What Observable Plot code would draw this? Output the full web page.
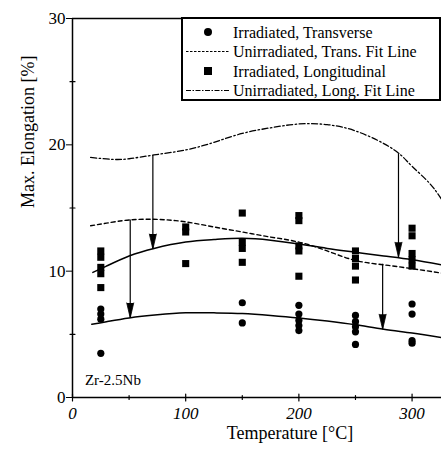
<!DOCTYPE html>
<html>
<head>
<meta charset="utf-8">
<script src="https://cdn.jsdelivr.net/npm/d3@7"></script>
<script src="https://cdn.jsdelivr.net/npm/@observablehq/plot@0.6"></script>
<style>
  html, body { margin: 0; padding: 0; background: #fff; }
  #chart { width: 441px; height: 454px; }
</style>
</head>
<body>
<div id="chart"></div>
<script>
// ---- data ----
const transverseTemp  = [25, 25, 25, 25, 150, 150, 200, 200, 200, 200, 200, 250, 250, 250, 250, 250, 300, 300, 300, 300];
const transverseElong = [7.0, 6.6, 6.2, 3.5, 7.5, 5.9, 7.3, 6.6, 6.1, 5.7, 5.3, 6.5, 6.0, 5.6, 5.2, 4.2, 7.4, 6.6, 4.5, 4.3];

const longTemp  = [25, 25, 25, 25, 25, 100, 100, 100, 150, 150, 150, 150, 200, 200, 200, 200, 200, 250, 250, 250, 250, 300, 300, 300, 300, 300];
const longElong = [11.6, 11.1, 10.3, 9.8, 8.7, 13.5, 13.1, 10.6, 14.6, 12.3, 11.8, 10.7, 14.4, 14.0, 12.0, 11.6, 9.6, 11.6, 11.0, 10.4, 9.3, 13.4, 12.8, 11.4, 10.9, 10.4];

const unirrTransFitT = [16, 30, 50, 75, 100, 125, 150, 175, 200, 225, 250, 275, 300, 326];
const unirrTransFitE = [13.6, 13.8, 14.05, 14.1, 13.9, 13.5, 13.1, 12.7, 12.3, 11.6, 10.85, 10.5, 10.2, 9.85];

const irrLongFitT = [18, 30, 50, 72, 100, 125, 150, 175, 200, 225, 250, 275, 300, 326];
const irrLongFitE = [9.9, 10.4, 11.2, 11.8, 12.3, 12.5, 12.6, 12.45, 12.15, 11.8, 11.5, 11.2, 10.9, 10.5];

const irrTransFitT = [17, 30, 50, 75, 100, 125, 150, 175, 200, 225, 250, 275, 300, 326];
const irrTransFitE = [5.8, 6.0, 6.3, 6.55, 6.7, 6.7, 6.65, 6.5, 6.3, 6.05, 5.75, 5.4, 5.1, 4.75];

const unirrLongFitT = [16, 35, 50, 72, 100, 125, 150, 175, 200, 225, 250, 275, 290, 300, 315, 326];
const unirrLongFitE = [19.0, 18.85, 18.9, 19.2, 19.6, 20.2, 20.9, 21.35, 21.65, 21.6, 21.1, 20.1, 19.2, 18.3, 17.0, 15.7];

const arrowT    = [51, 71, 274, 288];
const arrowFrom = [14.05, 19.15, 10.55, 19.25];
const arrowTo   = [6.3, 11.75, 5.4, 11.1];

const xMajorTicks = [0, 100, 200, 300];
const xMinorTicks = [50, 150, 250];
const yMajorTicks = [0, 10, 20, 30];
const yMinorTicks = [5, 15, 25];

const legendLabels = ["Irradiated, Transverse", "Unirradiated, Trans. Fit Line", "Irradiated, Longitudinal", "Unirradiated, Long. Fit Line"];
const legendKinds  = ["circle", "dash", "square", "dashdot"];

const xTitle = "Temperature [°C]";
const yTitle = "Max. Elongation [%]";
const alloyLabel = "Zr-2.5Nb";

// ---- tables ----
const pts = (xs, ys) => xs.map((x, i) => ({T: x, E: ys[i]}));
const transverse = pts(transverseTemp, transverseElong);
const longitudinal = pts(longTemp, longElong);
const arrows = arrowT.map((t, i) => ({T: t, from: arrowFrom[i], to: arrowTo[i]}));

const FONT = "'Liberation Serif', 'Times New Roman', serif";
const DASH = "4,3";
const DASHDOT = "6,2.5,1.5,2.5";

const plot = Plot.plot({
  width: 441,
  height: 454,
  marginLeft: 72,
  marginRight: 0,
  marginTop: 18,
  marginBottom: 57,
  style: {fontFamily: FONT, fontSize: "16px", background: "white", color: "black", overflow: "visible"},
  x: {domain: [0, 326], label: null},
  y: {domain: [0, 30], label: null},
  marks: [
    Plot.ruleX([0], {strokeWidth: 1.5}),
    Plot.ruleY([0, 30], {strokeWidth: 1.5}),
    Plot.axisX({ticks: xMajorTicks, tickSize: 0, tickPadding: 9, fontSize: 17, fontStyle: "italic"}),
    Plot.axisY({ticks: yMajorTicks, tickSize: 6, tickPadding: 1, fontSize: 17}),
    Plot.vector(xMajorTicks, {x: d => d, y: 0, length: 7, rotate: 0, shape: "spike", r: 0, stroke: "black", strokeWidth: 1.2}),
    Plot.vector(xMinorTicks, {x: d => d, y: 0, length: 4, rotate: 0, shape: "spike", r: 0, stroke: "black", strokeWidth: 1.2}),
    Plot.vector(yMinorTicks, {x: 0, y: d => d, length: 5, rotate: 90, shape: "spike", r: 0, stroke: "black", strokeWidth: 1.2}),
    Plot.line(pts(unirrLongFitT, unirrLongFitE), {x: "T", y: "E", curve: "natural", stroke: "black", strokeWidth: 1.3, strokeDasharray: DASHDOT, clip: true}),
    Plot.line(pts(unirrTransFitT, unirrTransFitE), {x: "T", y: "E", curve: "natural", stroke: "black", strokeWidth: 1.4, strokeDasharray: DASH, clip: true}),
    Plot.line(pts(irrLongFitT, irrLongFitE), {x: "T", y: "E", curve: "natural", stroke: "black", strokeWidth: 1.5, clip: true}),
    Plot.line(pts(irrTransFitT, irrTransFitE), {x: "T", y: "E", curve: "natural", stroke: "black", strokeWidth: 1.5, clip: true}),
    Plot.ruleX(arrows, {x: "T", y1: "from", y2: "to", stroke: "black", strokeWidth: 1.2}),
    Plot.vector(arrows, {x: "T", y: "to", length: 15, rotate: 180, shape: "spike", r: 3.5, anchor: "end", fill: "black", stroke: "black", strokeWidth: 0.8}),
    Plot.dot(longitudinal, {x: "T", y: "E", symbol: "square", r: 4, fill: "black", stroke: "none"}),
    Plot.dot(transverse, {x: "T", y: "E", symbol: "circle", r: 3.6, fill: "black", stroke: "none"}),
    Plot.text([alloyLabel], {x: 11, y: 1.35, text: d => d, textAnchor: "start", fontSize: 15}),
    Plot.text([xTitle], {frameAnchor: "bottom", dy: 41, dx: 33, text: d => d, fontSize: 18}),
    Plot.text([yTitle], {frameAnchor: "left", dx: -44, rotate: -90, text: d => d, fontSize: 18})
  ]
});

document.getElementById("chart").appendChild(plot);

// ---- legend box inside the plot area (top-right) ----
const svg = d3.select(plot);
const lg = svg.append("g")
  .attr("font-family", FONT)
  .attr("font-size", 16)
  .attr("text-anchor", "start");
const box = {x: 182, y: 18, w: 258, h: 82};
lg.append("rect").attr("x", box.x).attr("y", box.y).attr("width", box.w).attr("height", box.h)
  .attr("fill", "white").attr("stroke", "black").attr("stroke-width", 2);
const rowY = i => 32 + i * 19.5;
legendLabels.forEach((label, i) => {
  const y = rowY(i);
  const kind = legendKinds[i];
  if (kind === "circle") {
    lg.append("circle").attr("cx", 208).attr("cy", y).attr("r", 4).attr("fill", "black");
  } else if (kind === "square") {
    lg.append("rect").attr("x", 204).attr("y", y - 4).attr("width", 8).attr("height", 8).attr("fill", "black");
  } else {
    lg.append("line").attr("x1", 186).attr("x2", 229).attr("y1", y).attr("y2", y)
      .attr("stroke", "black").attr("stroke-width", 1.2)
      .attr("stroke-dasharray", kind === "dash" ? "2.5,1.5" : "5,1.5,1.5,1.5");
  }
  lg.append("text").attr("x", 233).attr("y", y).attr("dy", "0.35em")
    .attr("text-anchor", "start").attr("fill", "black").text(label);
});
</script>
</body>
</html>
